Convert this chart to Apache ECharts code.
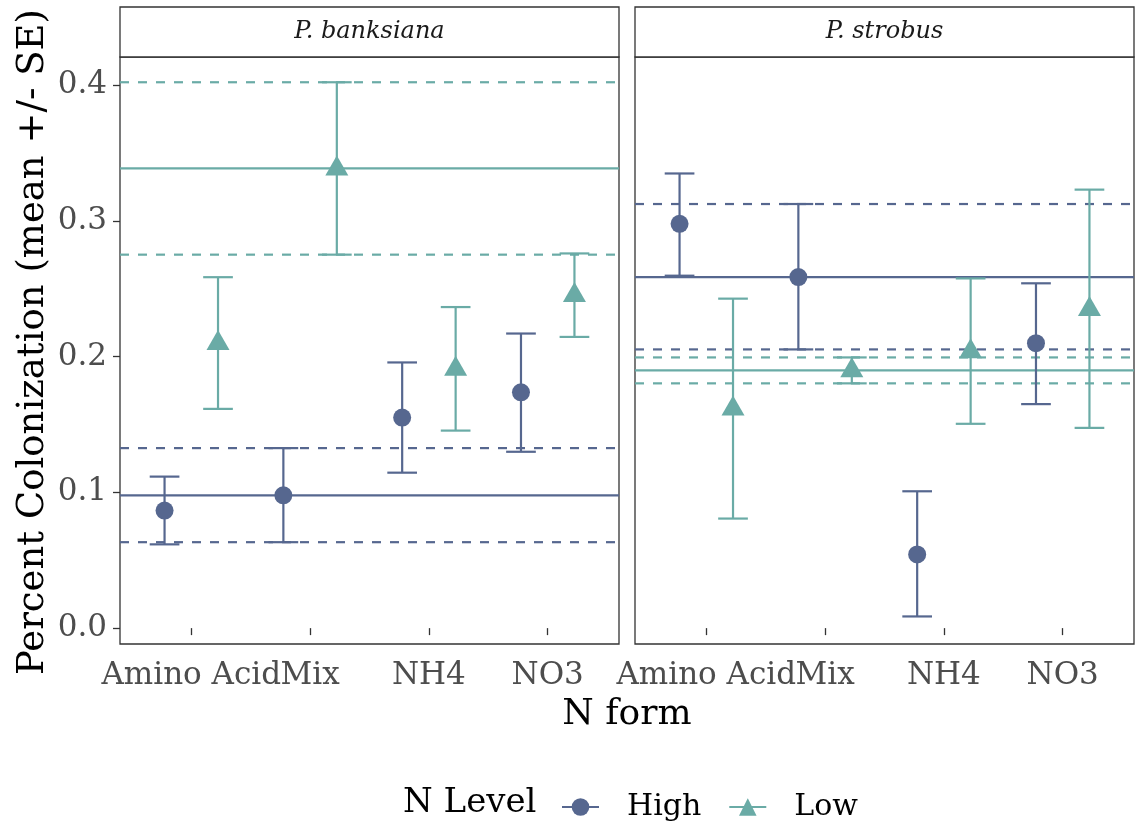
<!DOCTYPE html>
<html><head><meta charset="utf-8">
<script src="https://cdn.jsdelivr.net/npm/echarts@6/dist/echarts.min.js"></script>
<style>html,body{margin:0;padding:0;background:#fff}#c{width:1139px;height:826px}</style>
</head><body><div id="c"></div>
<script>
// ---- data ----
const categories = ['Amino Acid', 'Mix', 'NH4', 'NO3'];
const panels = ['P. banksiana', 'P. strobus'];
const levels = ['High', 'Low'];
const yTicks = [0, 0.1, 0.2, 0.3, 0.4];

const banksianaHighMean  = [0.0866, 0.0978, 0.1551, 0.1737];
const banksianaHighLower = [0.0617, 0.0633, 0.1145, 0.1299];
const banksianaHighUpper = [0.1116, 0.1326, 0.1957, 0.2170];
const banksianaLowMean   = [0.2100, 0.3386, 0.1910, 0.2453];
const banksianaLowLower  = [0.1615, 0.2751, 0.1455, 0.2145];
const banksianaLowUpper  = [0.2585, 0.4021, 0.2365, 0.2760];

const strobusHighMean  = [0.2978, 0.2586, 0.0543, 0.2099];
const strobusHighLower = [0.2596, 0.2053, 0.0086, 0.1650];
const strobusHighUpper = [0.3349, 0.3124, 0.1008, 0.2540];
const strobusLowMean   = [0.1617, 0.1899, 0.2040, 0.2350];
const strobusLowLower  = [0.0807, 0.1803, 0.1505, 0.1475];
const strobusLowUpper  = [0.2427, 0.1994, 0.2576, 0.3230];

const refCategory = 'Mix'; // horizontal reference lines are drawn at the Mix mean +/- SE

// ---- styling / layout ----
const FONT = 'DejaVu Serif';
const colors = { High: '#56678f', Low: '#6aaba6' };
const symbols = { High: 'circle', Low: 'triangle' };
const symbolSizes = { High: 18, Low: [23, 20] };
const symbolOffsets = { High: [0, 0], Low: [0, -3] };
const dodge = { High: -0.225, Low: 0.225 };
const XMIN = 0.4, XMAX = 4.6, YMIN = -0.0117, YMAX = 0.4207;
const gridTop = 57, gridH = 587;
const gridLefts = [120, 635], gridW = 499;
const BORDER = '#333333';

const table = {
  'P. banksiana': {
    High: { mean: banksianaHighMean, lo: banksianaHighLower, hi: banksianaHighUpper },
    Low:  { mean: banksianaLowMean,  lo: banksianaLowLower,  hi: banksianaLowUpper }
  },
  'P. strobus': {
    High: { mean: strobusHighMean, lo: strobusHighLower, hi: strobusHighUpper },
    Low:  { mean: strobusLowMean,  lo: strobusLowLower,  hi: strobusLowUpper }
  }
};

const grids = [], xAxes = [], yAxes = [], series = [], graphics = [];
const refIdx = categories.indexOf(refCategory);
const catPos = categories.map((c, i) => i + 1);
// "Amino Acid" and "Mix" labels touch each other, so the labels are split over two
// overlaid x axes per panel to keep ECharts from hiding one of them.
const labelSetA = catPos.filter((v, i) => i % 2 === 0);
const labelSetB = catPos.filter((v, i) => i % 2 === 1);

panels.forEach((p, pi) => {
  grids.push({ left: gridLefts[pi], top: gridTop, width: gridW, height: gridH,
    show: true, borderColor: BORDER, borderWidth: 1.3, backgroundColor: '#fff' });
  [labelSetA, labelSetB].forEach((set, k) => {
    xAxes.push({
      type: 'value', gridIndex: pi, min: XMIN, max: XMAX, position: 'bottom',
      axisLine: { show: false },
      splitLine: { show: false },
      axisTick: { show: k === 0, length: 7, lineStyle: { color: BORDER, width: 1.3 }, customValues: catPos },
      axisLabel: { show: true, customValues: set, margin: 16,
        showMinLabel: true, showMaxLabel: true, hideOverlap: false,
        formatter: v => categories[Math.round(v) - 1],
        fontFamily: FONT, fontSize: 31, color: '#4d4d4d' }
    });
  });
  yAxes.push({
    type: 'value', gridIndex: pi, min: YMIN, max: YMAX,
    axisLine: { show: false },
    splitLine: { show: false },
    axisTick: { show: pi === 0, length: 7, lineStyle: { color: BORDER, width: 1.3 }, customValues: yTicks },
    axisLabel: { show: pi === 0, customValues: yTicks, margin: 13,
      showMinLabel: true, showMaxLabel: true,
      formatter: v => v.toFixed(1), fontFamily: FONT, fontSize: 31, color: '#4d4d4d' }
  });
  const xi = pi * 2;

  // reference lines first (solid line series carry the legend icon)
  levels.forEach(lv => {
    const d = table[p][lv];
    series.push({
      type: 'line', name: lv, xAxisIndex: xi, yAxisIndex: pi,
      data: [[XMIN, d.mean[refIdx]], [XMAX, d.mean[refIdx]]],
      symbol: symbols[lv], showSymbol: false, silent: true, z: 2,
      itemStyle: { color: colors[lv] },
      lineStyle: { color: colors[lv], width: 2.2, type: 'solid' }
    });
    [d.lo[refIdx], d.hi[refIdx]].forEach(v => {
      series.push({
        type: 'line', name: lv, xAxisIndex: xi, yAxisIndex: pi,
        data: [[XMIN, v], [XMAX, v]],
        symbol: 'none', silent: true, z: 2,
        itemStyle: { color: colors[lv] },
        lineStyle: { color: colors[lv], width: 2.2, type: [9, 9] }
      });
    });
  });

  levels.forEach(lv => {
    const d = table[p][lv];
    const col = colors[lv];
    series.push({
      type: 'custom', name: lv, xAxisIndex: xi, yAxisIndex: pi, z: 3, silent: true,
      data: categories.map((c, i) => [i + 1 + dodge[lv], d.lo[i], d.hi[i]]),
      encode: { x: 0, y: [1, 2] },
      renderItem: (params, api) => {
        const x = api.value(0);
        const a = api.coord([x, api.value(1)]);
        const b = api.coord([x, api.value(2)]);
        const w = api.size([0.25, 0])[0] / 2;
        const st = { stroke: col, lineWidth: 2.2 };
        return { type: 'group', children: [
          { type: 'line', shape: { x1: a[0], y1: a[1], x2: b[0], y2: b[1] }, style: st },
          { type: 'line', shape: { x1: a[0] - w, y1: a[1], x2: a[0] + w, y2: a[1] }, style: st },
          { type: 'line', shape: { x1: b[0] - w, y1: b[1], x2: b[0] + w, y2: b[1] }, style: st }
        ] };
      }
    });
    series.push({
      type: 'scatter', name: lv, xAxisIndex: xi, yAxisIndex: pi, z: 4,
      data: categories.map((c, i) => [i + 1 + dodge[lv], d.mean[i]]),
      symbol: symbols[lv], symbolSize: symbolSizes[lv], symbolOffset: symbolOffsets[lv],
      itemStyle: { color: col, opacity: 1 }
    });
  });

  // facet strip
  graphics.push({
    type: 'rect', shape: { x: gridLefts[pi], y: 7, width: gridW, height: gridTop - 7 },
    style: { fill: '#fff', stroke: BORDER, lineWidth: 1.3 }
  });
  graphics.push({
    type: 'text', x: gridLefts[pi] + gridW / 2, y: (7 + gridTop) / 2,
    style: { text: p, fontFamily: FONT, fontStyle: 'italic', fontSize: 24, fill: '#1a1a1a',
      align: 'center', verticalAlign: 'middle' }
  });
});

// axis titles
graphics.push({
  type: 'text', x: 33, y: 342, rotation: Math.PI / 2,
  style: { text: 'Percent Colonization (mean +/- SE)', fontFamily: FONT, fontSize: 37, fill: '#000',
    align: 'center', verticalAlign: 'middle' }
});
graphics.push({
  type: 'text', x: (gridLefts[0] + gridLefts[1] + gridW) / 2, y: 715,
  style: { text: 'N form', fontFamily: FONT, fontSize: 36, fill: '#000',
    align: 'center', verticalAlign: 'middle' }
});
graphics.push({
  type: 'text', x: 403, y: 803,
  style: { text: 'N Level', fontFamily: FONT, fontSize: 34, fill: '#000',
    align: 'left', verticalAlign: 'middle' }
});

const chart = echarts.init(document.getElementById('c'), null, { renderer: 'canvas' });
chart.setOption({
  animation: false,
  backgroundColor: '#fff',
  grid: grids, xAxis: xAxes, yAxis: yAxes, series: series,
  legend: {
    data: levels, left: 561, top: 792, padding: 0,
    itemWidth: 37, itemHeight: 22, itemGap: 27, selectedMode: false,
    textStyle: { fontFamily: FONT, fontSize: 30, color: '#000', padding: [0, 0, 0, 23] }
  },
  graphic: graphics
});
</script></body></html>
